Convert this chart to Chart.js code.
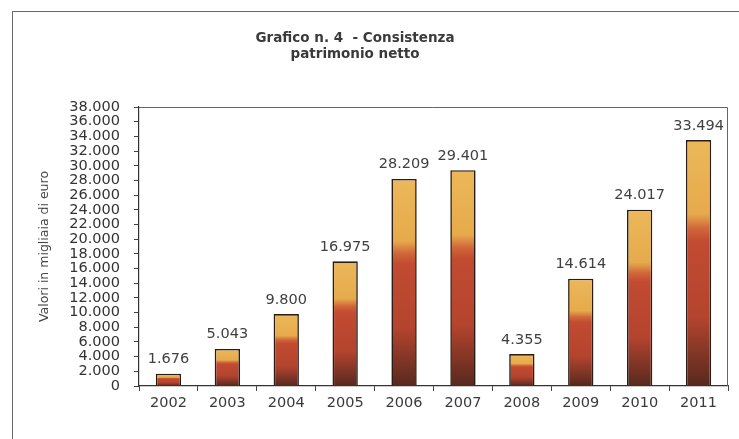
<!DOCTYPE html>
<html lang="it">
<head>
<meta charset="utf-8">
<title>Grafico n. 4 - Consistenza patrimonio netto</title>
<script src="https://cdn.jsdelivr.net/npm/chart.js@4/dist/chart.umd.min.js"></script>
<style>
  html, body { margin: 0; padding: 0; background: #fff; }
  #wrap { position: relative; width: 739px; height: 439px; overflow: hidden; }
  #frame { position: absolute; left: 12px; top: 11px; width: 760px; height: 460px;
    border-left: 1.5px solid #6a6a6a; border-top: 1.5px solid #6a6a6a; pointer-events: none; }
  canvas { position: absolute; left: 0; top: 0; }
</style>
</head>
<body>
<div id="wrap">
  <canvas id="grafico" width="739" height="439"></canvas>
  <div id="frame"></div>
</div>
<script>
"use strict";

// Dati (valori in migliaia di euro)
const ANNI = ["2002", "2003", "2004", "2005", "2006", "2007", "2008", "2009", "2010", "2011"];
const VALORI = [1676, 5043, 9800, 16975, 28209, 29401, 4355, 14614, 24017, 33494];
const TITOLO = ["Grafico n. 4  - Consistenza", "patrimonio netto"];
const ASSE_Y = "Valori in migliaia di euro";
const Y_MAX = 38000;
const Y_PASSO = 2000;

const FONT = "'DejaVu Sans', Verdana, sans-serif";
const punti = (v) => String(Math.round(v)).replace(/\B(?=(\d{3})+(?!\d))/g, ".");

// sfumatura verticale della barra: giallo in alto, rosso, marrone scuro alla base
function sfumatura(ctx) {
  const chart = ctx.chart;
  const ys = chart.scales.y;
  if (ctx.type !== "data" || !ys || !chart.chartArea) return "#c44a30";
  const top = ys.getPixelForValue(ctx.raw);
  const base = ys.getPixelForValue(0);
  const g = chart.ctx.createLinearGradient(0, top, 0, base);
  g.addColorStop(0, "#ecb85a");
  g.addColorStop(0.3, "#e6aa4c");
  g.addColorStop(0.36, "#d0663a");
  g.addColorStop(0.41, "#c24b31");
  g.addColorStop(0.72, "#b4442e");
  g.addColorStop(1, "#57291f");
  return g;
}

const titoloPlugin = {
  id: "titolo",
  afterDraw(chart) {
    const c = chart.ctx;
    c.save();
    c.font = "bold 13.5px " + FONT;
    c.fillStyle = "#3a3a3a";
    c.textAlign = "center";
    c.textBaseline = "middle";
    c.fillText(TITOLO[0], 355, 38);
    c.fillText(TITOLO[1], 355, 54);
    c.restore();
  },
};

const cornicePlugin = {
  id: "cornice",
  beforeDatasetsDraw(chart) {
    const a = chart.chartArea;
    const c = chart.ctx;
    c.save();
    c.strokeStyle = "#666";
    c.lineWidth = 1;
    c.beginPath();
    c.moveTo(a.left, a.top + 0.5);
    c.lineTo(a.right - 0.5, a.top + 0.5);
    c.lineTo(a.right - 0.5, a.bottom);
    c.stroke();
    c.restore();
  },
};

const etichettePlugin = {
  id: "etichette",
  afterDatasetsDraw(chart) {
    const c = chart.ctx;
    const meta = chart.getDatasetMeta(0);
    c.save();
    c.font = "14.5px " + FONT;
    c.fillStyle = "#404040";
    c.textAlign = "center";
    c.textBaseline = "bottom";
    meta.data.forEach((bar, i) => {
      c.fillText(punti(VALORI[i]), bar.x, bar.y - 7);
    });
    c.restore();
  },
};

new Chart(document.getElementById("grafico"), {
  type: "bar",
  data: {
    labels: ANNI,
    datasets: [{
      data: VALORI,
      backgroundColor: sfumatura,
      borderColor: "#2a1c16",
      borderWidth: 1.6,
      categoryPercentage: 1,
      barPercentage: 0.43,
    }],
  },
  options: {
    responsive: false,
    devicePixelRatio: 1,
    animation: false,
    layout: { padding: { left: 0, top: 107, right: 11, bottom: 0 } },
    plugins: { legend: { display: false }, tooltip: { enabled: false }, title: { display: false } },
    scales: {
      x: {
        afterFit: (s) => { s.height = 53; },
        grid: { display: true, drawOnChartArea: false, offset: true, tickLength: 5, color: "#444", tickWidth: 1 },
        border: { display: true, color: "#333", width: 1.2 },
        ticks: { color: "#3a3a3a", font: { family: FONT, size: 14.5 }, padding: 4, maxRotation: 0 },
      },
      y: {
        min: 0,
        max: Y_MAX,
        afterFit: (s) => { s.width = 139; },
        grid: { display: true, drawOnChartArea: false, tickLength: 5, color: "#444", tickWidth: 1 },
        border: { display: true, color: "#333", width: 1.2 },
        ticks: {
          stepSize: Y_PASSO,
          autoSkip: false,
          color: "#333",
          font: { family: FONT, size: 14.5, lineHeight: 1 },
          padding: 14,
          callback: (v) => punti(v),
        },
        title: {
          display: true,
          text: ASSE_Y,
          color: "#444",
          font: { family: FONT, size: 12.5 },
          padding: { top: 37, bottom: 0 },
        },
      },
    },
  },
  plugins: [titoloPlugin, cornicePlugin, etichettePlugin],
});
</script>
</body>
</html>
